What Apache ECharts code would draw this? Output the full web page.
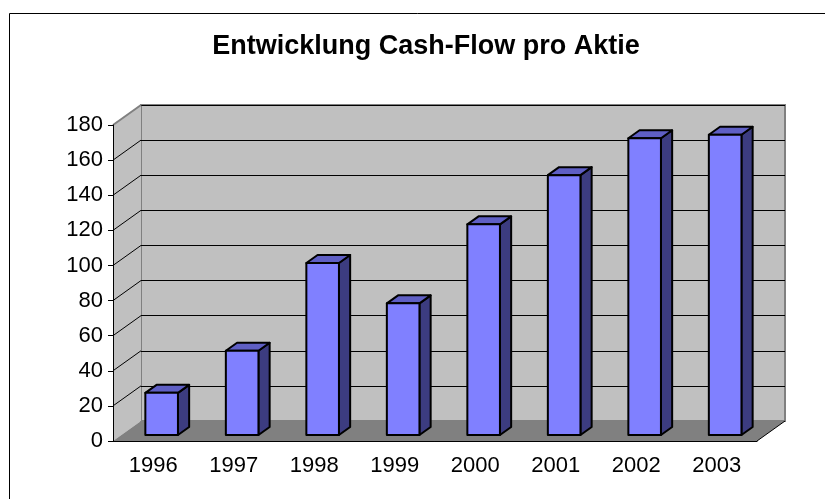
<!DOCTYPE html>
<html>
<head>
<meta charset="utf-8">
<script src="https://cdn.jsdelivr.net/npm/echarts@6/dist/echarts.min.js"></script>
<style>
  html, body { margin: 0; padding: 0; background: #fff; }
  #chart { width: 825px; height: 499px; }
</style>
</head>
<body>
<div id="chart"></div>
<script>
// Daten
const years = ["1996", "1997", "1998", "1999", "2000", "2001", "2002", "2003"];
const cashFlow = [24, 48, 98, 75, 120, 148, 169, 171];
const yTicks = [20, 40, 60, 80, 100, 120, 140, 160, 180];

// Tiefe des 3D-Effekts (Pixel)
const DX = 28, DY = -20;

const myChart = echarts.init(document.getElementById("chart"));

// Seitenwand + Boden
function renderWalls(params, api) {
  const band = api.size([1, 0])[0];
  const p0 = api.coord([0, 0]);
  const pTop = api.coord([0, 180]);
  const pEnd = api.coord([years.length - 1, 0]);
  const left = p0[0] - band / 2;
  const right = pEnd[0] + band / 2;
  const yb = p0[1], yt = pTop[1];
  return {
    type: "group",
    children: [
      {
        type: "polygon",
        shape: { points: [[left, yb], [left, yt], [left + DX, yt + DY], [left + DX, yb + DY]] },
        style: { fill: "#c0c0c0" },
      },
      {
        type: "polygon",
        shape: { points: [[left, yb], [right, yb], [right + DX, yb + DY], [left + DX, yb + DY]] },
        style: { fill: "#808080" },
      },
      {
        type: "line",
        shape: { x1: right, y1: yb, x2: right + DX, y2: yb + DY },
        style: { stroke: "#000", lineWidth: 1 },
      },
    ],
  };
}

// schräge Gitterlinien auf der Seitenwand
function renderSideGrid(params, api) {
  const band = api.size([1, 0])[0];
  const p = api.coord([0, api.value(0)]);
  const left = p[0] - band / 2;
  const isTop = api.value(0) === 180;
  return {
    type: "line",
    shape: { x1: left, y1: p[1], x2: left + DX, y2: p[1] + DY },
    style: { stroke: isTop ? "#808080" : "#000", lineWidth: isTop ? 2 : 1 },
  };
}

// 3D-Säulen
function renderBar(params, api) {
  const idx = api.value(0);
  const base = api.coord([idx, 0]);
  const top = api.coord([idx, api.value(1)]);
  const band = api.size([1, 0])[0];
  const w = band * 0.405;
  const fx = DX * 0.3, fy = DY * 0.3; // Vorderseite liegt in der Tiefe
  const bx = DX * 0.4, by = DY * 0.4; // Säulentiefe
  const x0 = base[0] - w / 2 + fx, x1 = x0 + w;
  const yt = top[1] + fy, yb = base[1] + fy;
  const edge = { stroke: "#000", lineWidth: 2, lineJoin: "round" };
  return {
    type: "group",
    children: [
      {
        type: "polygon",
        shape: { points: [[x1, yt], [x1 + bx, yt + by], [x1 + bx, yb + by], [x1, yb]] },
        style: Object.assign({ fill: "#3c3c80" }, edge),
      },
      {
        type: "polygon",
        shape: { points: [[x0, yt], [x1, yt], [x1 + bx, yt + by], [x0 + bx, yt + by]] },
        style: Object.assign({ fill: "#5f5fc4" }, edge),
      },
      {
        type: "rect",
        shape: { x: x0, y: yt, width: w, height: yb - yt },
        style: Object.assign({ fill: "#8080ff" }, edge),
      },
    ],
  };
}

const labelFont = { fontFamily: "Liberation Sans", fontSize: 22, color: "#000" };

const option = {
  backgroundColor: "#fff",
  animation: false,
  title: {
    text: "Entwicklung Cash-Flow pro Aktie",
    left: 421,
    textAlign: "center",
    top: 28,
    textStyle: { fontFamily: "Liberation Sans", fontWeight: "bold", fontSize: 27, color: "#000" },
  },
  graphic: [
    {
      type: "rect",
      shape: { x: 9.5, y: 13.5, width: 900, height: 600 },
      style: { fill: "none", stroke: "#000", lineWidth: 1 },
      silent: true,
    },
  ],
  grid: [
    // Rückwand
    { left: 141, top: 105, width: 644, height: 316, show: true, backgroundColor: "#c0c0c0", borderColor: "#808080", borderWidth: 2 },
    // vordere Achsen
    { left: 113, top: 125, width: 644, height: 316 },
  ],
  xAxis: [
    { gridIndex: 0, type: "category", data: years, show: false },
    {
      gridIndex: 1,
      type: "category",
      data: years,
      axisLine: { lineStyle: { color: "#000", width: 1 } },
      axisTick: { length: 6, lineStyle: { color: "#000" } },
      axisLabel: Object.assign({ margin: 14 }, labelFont),
      z: 10,
    },
  ],
  yAxis: [
    {
      gridIndex: 0,
      type: "value",
      min: 0,
      max: 180,
      interval: 20,
      axisLabel: { show: false },
      axisLine: { show: false },
      axisTick: { show: false },
      splitLine: { lineStyle: { color: "#000", width: 1 } },
    },
    {
      gridIndex: 1,
      type: "value",
      min: 0,
      max: 180,
      interval: 20,
      axisLine: { show: true, lineStyle: { color: "#000", width: 1 } },
      axisTick: { show: true, length: 5, lineStyle: { color: "#000" } },
      axisLabel: Object.assign({ margin: 10 }, labelFont),
      splitLine: { show: false },
      z: 10,
    },
  ],
  series: [
    {
      type: "custom",
      xAxisIndex: 1,
      yAxisIndex: 1,
      renderItem: renderWalls,
      data: [[0]],
      z: 1,
      silent: true,
    },
    {
      type: "custom",
      xAxisIndex: 1,
      yAxisIndex: 1,
      renderItem: renderSideGrid,
      data: yTicks.map((t) => [t]),
      z: 2,
      silent: true,
    },
    {
      type: "custom",
      xAxisIndex: 1,
      yAxisIndex: 1,
      renderItem: renderBar,
      data: cashFlow.map((v, i) => [i, v]),
      z: 3,
    },
  ],
};

option && myChart.setOption(option);
</script>
</body>
</html>
